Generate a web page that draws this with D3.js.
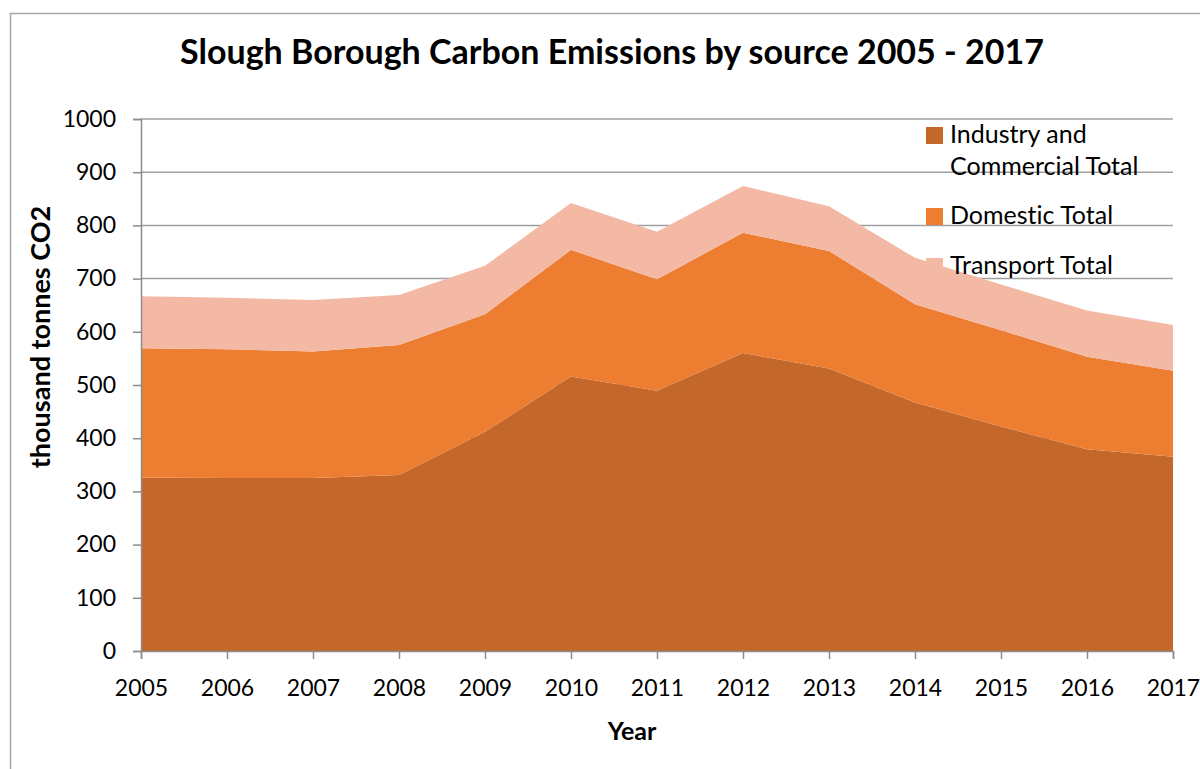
<!DOCTYPE html>
<html>
<head>
<meta charset="utf-8">
<script src="https://cdn.jsdelivr.net/npm/d3@7"></script>
<style>
    body { margin: 0; background: #fff; }
    svg { display: block; font-family: Lato, "Open Sans", sans-serif; font-variant-ligatures: none; }
</style>
</head>
<body>
<div id="chart"></div>
<script>
// Data
const years = [2005, 2006, 2007, 2008, 2009, 2010, 2011, 2012, 2013, 2014, 2015, 2016, 2017];
const industry = [326, 325, 325, 331, 412, 516, 489, 560, 531, 467, 422, 379, 365];
const domestic = [243, 242, 238, 244, 221, 238, 210, 226, 221, 185, 181, 174, 162];
const transport = [98, 97, 97, 94, 91, 88, 89, 88, 84, 87, 86, 87, 86];
const seriesNames = ['Industry and Commercial Total', 'Domestic Total', 'Transport Total'];
const legendLines = [['Industry and', 'Commercial Total'], ['Domestic Total'], ['Transport Total']];
const colors = ['#c4672a', '#ed7d31', '#f4b9a4'];
const yTicks = [0, 100, 200, 300, 400, 500, 600, 700, 800, 900, 1000];

const W = 1200, H = 769;
const margin = { top: 119, right: 27, bottom: 118, left: 141 };
const width = W - margin.left - margin.right;
const height = H - margin.top - margin.bottom;

const svg = d3.select('#chart')
    .append('svg')
    .attr('width', W)
    .attr('height', H);

// outer chart border (runs off the right and bottom of the picture)
svg.append('rect')
    .attr('x', 10.5)
    .attr('y', 13.5)
    .attr('width', 1300)
    .attr('height', 900)
    .attr('fill', 'none')
    .attr('stroke', '#a6a6a6')
    .attr('stroke-width', 1.5);

svg.append('text')
    .attr('x', 612)
    .attr('y', 64)
    .attr('text-anchor', 'middle')
    .attr('font-size', 34)
    .attr('font-weight', 'bold')
    .text('Slough Borough Carbon Emissions by source 2005 - 2017');

const g = svg.append('g')
    .attr('transform', `translate(${margin.left},${margin.top})`);

const x = d3.scaleLinear()
    .domain([years[0], years[years.length - 1]])
    .range([0, width]);

const y = d3.scaleLinear()
    .domain([0, 1000])
    .range([height, 0]);

// gridlines
g.selectAll('.grid')
    .data(yTicks.filter(d => d > 0))
    .enter()
    .append('line')
    .attr('x1', 0)
    .attr('x2', width)
    .attr('y1', d => y(d))
    .attr('y2', d => y(d))
    .attr('stroke', '#a0a0a0')
    .attr('stroke-width', 1.5);

// stacked areas
const table = years.map((yr, i) => ({
    year: yr,
    [seriesNames[0]]: industry[i],
    [seriesNames[1]]: domestic[i],
    [seriesNames[2]]: transport[i]
}));

const stack = d3.stack().keys(seriesNames);
const layers = stack(table);

const area = d3.area()
    .x(d => x(d.data.year))
    .y0(d => y(d[0]))
    .y1(d => y(d[1]));

g.selectAll('.layer')
    .data(layers)
    .enter()
    .append('path')
    .attr('class', 'layer')
    .attr('d', area)
    .attr('fill', (d, i) => colors[i]);

// y axis
const yAxis = g.append('g')
    .call(d3.axisLeft(y).tickValues(yTicks).tickFormat(d3.format('d')).tickSize(8).tickPadding(17));
yAxis.selectAll('line, path').attr('stroke', '#8c8c8c').attr('stroke-width', 1.5);
yAxis.selectAll('text').attr('font-size', 23).attr('fill', '#000').attr('font-family', 'Lato, sans-serif');

// x axis
const xAxis = g.append('g')
    .attr('transform', `translate(0,${height})`)
    .call(d3.axisBottom(x).tickValues(years).tickFormat(d3.format('d')).tickSize(8).tickPadding(21));
xAxis.selectAll('line, path').attr('stroke', '#8c8c8c').attr('stroke-width', 1.5);
xAxis.selectAll('text').attr('font-size', 23).attr('fill', '#000').attr('font-family', 'Lato, sans-serif');

// axis titles
svg.append('text')
    .attr('transform', 'translate(50,337) rotate(-90)')
    .attr('text-anchor', 'middle')
    .attr('font-size', 27)
    .attr('font-weight', 'bold')
    .text('thousand tonnes CO2');

svg.append('text')
    .attr('x', 632)
    .attr('y', 740)
    .attr('text-anchor', 'middle')
    .attr('font-size', 25)
    .attr('font-weight', 'bold')
    .text('Year');

// legend
const legendTop = [127, 208, 258];
const legend = svg.append('g');
legendLines.forEach((lines, i) => {
    legend.append('rect')
        .attr('x', 926)
        .attr('y', legendTop[i])
        .attr('width', 17)
        .attr('height', 17)
        .attr('fill', colors[i]);
    lines.forEach((line, j) => {
        legend.append('text')
            .attr('x', 950)
            .attr('y', legendTop[i] + 16 + j * 32)
            .attr('font-size', 25)
            .text(line);
    });
});
</script>
</body>
</html>
